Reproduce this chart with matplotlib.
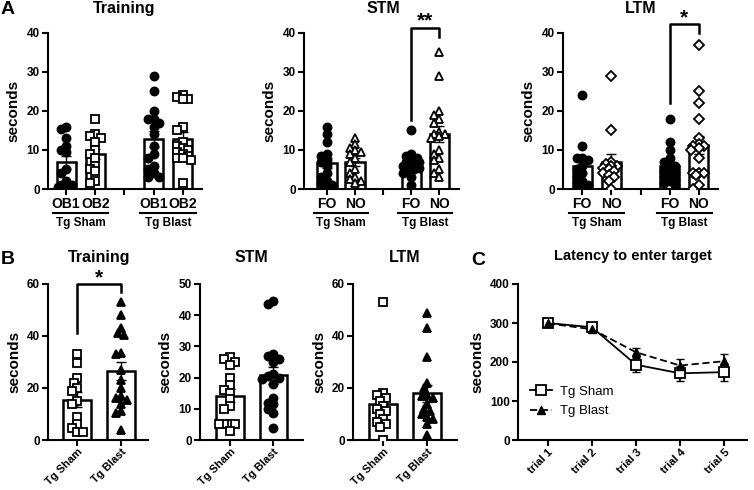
import numpy as np
import matplotlib
matplotlib.use("Agg")
import matplotlib.pyplot as plt
import matplotlib.transforms as mtrans

plt.rcParams['font.family'] = ['Liberation Sans', 'DejaVu Sans']
plt.rcParams['font.weight'] = 'bold'
plt.rcParams['axes.labelweight'] = 'bold'
plt.rcParams['axes.titleweight'] = 'bold'
plt.rcParams['axes.linewidth'] = 1.5

# ---------------- datos ----------------
# A: novel object recognition (seconds)
tr_sham_ob1 = [16, 15.5, 13, 11, 10, 9.5, 5, 4, 2, 1, 1, 0.5, 0.5]
tr_sham_ob2 = [18, 14, 13.5, 13, 12, 10, 9, 8, 6, 5, 4.5, 2, 1.5]
tr_blast_ob1 = [29, 25, 20, 18, 18, 17, 16, 14, 11, 9, 8, 6, 5, 4, 3, 3]
tr_blast_ob2 = [24, 23.5, 23, 23, 16, 15, 12, 11, 10.5, 10, 9.5, 9, 8.5, 8, 8, 7.5, 1.5]

stm_sham_fo = [16, 14, 12, 9, 8.5, 7.5, 7, 6, 4, 3, 2, 1.5, 1, 1]
stm_sham_no = [13, 11.5, 10.5, 10, 9.5, 9, 8, 7, 5, 4, 3, 2.5, 2, 1.5]
stm_blast_fo = [15, 9, 8.5, 8, 7.5, 7, 7, 6.5, 6, 6, 5.5, 5, 4.5, 4, 3, 1]
stm_blast_no = [35, 29, 20, 19, 18, 17, 14.5, 14, 14, 13.5, 13, 10, 9, 8, 7.5, 5, 4, 3]

ltm_sham_fo = [24, 11, 8, 8, 7.5, 6, 5, 4, 3, 2, 1.5, 1, 0.5, 0]
ltm_sham_no = [29, 15, 7, 6.5, 6, 6, 5.5, 5, 4.5, 4, 3.5, 3, 2, 0]
ltm_blast_fo = [18, 12, 10, 8, 7, 6.5, 6, 5, 4.5, 4, 3.5, 3, 2.5, 2, 1.5, 1]
ltm_blast_no = [37, 25, 22, 18, 13, 11.5, 11, 11, 10.5, 10, 8, 4, 4, 4, 3.5, 1, 0]

# B: Tg Sham vs Tg Blast (seconds)
b_tr_sham = [33, 29.5, 24, 22, 20, 19, 15, 14, 9, 6, 4.5, 3, 3]
b_tr_blast = [53, 48, 43, 41, 40.5, 33.5, 33, 27, 23, 20, 17, 16, 15.5, 14, 11, 10.5, 4]
b_stm_sham = [26.5, 26, 25, 24, 20, 17.5, 16, 15, 13, 11, 10, 5, 5, 5, 5, 3]
b_stm_blast = [44.5, 43.5, 27.5, 27, 26, 25, 21, 20.5, 20, 19.5, 18, 13.5, 12, 11.5, 10, 8.5, 4]
b_ltm_sham = [53, 18, 17.5, 16, 15, 13, 12, 11, 10, 8, 7, 6, 5, 0]
b_ltm_blast = [49, 43, 32, 22, 20, 17.5, 17, 16, 14, 12, 11, 10, 9, 8, 6, 2]

# C: latency to enter target
trials = ['trial 1', 'trial 2', 'trial 3', 'trial 4', 'trial 5']
lat_sham = [300, 289, 193, 171, 174]
lat_sham_err = [4, 4, 18, 20, 22]
lat_blast = [299, 284, 225, 191, 202]
lat_blast_err = [4, 4, 12, 16, 18]

W, H = 754, 490
fig = plt.figure(figsize=(W / 100, H / 100), dpi=100)


def add_ax(l, r, t, b):
    a = fig.add_axes([l / W, 1 - b / H, (r - l) / W, (b - t) / H])
    a.spines['top'].set_visible(False)
    a.spines['right'].set_visible(False)
    a.tick_params(width=1.5, length=4, labelsize=8.5, pad=2)
    return a


def swarm(ax, x0, vals, d, limit):
    # reparte los puntos a los lados (en pixeles) sin salirse mucho de la barra
    vals = np.asarray(vals, float)
    pts = ax.transData.transform(np.column_stack([np.full(len(vals), x0), vals]))
    step = d * 0.5
    cands = [0.0]
    j = 1
    while j * step <= limit:
        cands += [-j * step, j * step]
        j += 1
    placed = []
    xs = []
    for px, py in pts:
        best, bestd = px, -1
        for off in cands:
            c = px + off
            md = min([np.hypot(c - qx, py - qy) for qx, qy in placed] + [1e9])
            if md >= d:
                best = c
                break
            if md > bestd:
                best, bestd = c, md
        placed.append((best, py))
        xs.append(best)
    return ax.transData.inverted().transform(np.column_stack([xs, pts[:, 1]]))[:, 0]


def bar_dots(ax, x0, vals, width, marker, filled, ms=5.5, d=5.5):
    vals = np.asarray(vals, float)
    m = vals.mean()
    sem = vals.std(ddof=1) / np.sqrt(len(vals))
    ax.bar(x0, m, width=width, color='white', edgecolor='black', linewidth=1.8, zorder=1)
    ax.errorbar(x0, m, yerr=sem, color='black', lw=1, capsize=3.5, capthick=1, zorder=2)
    wpx = (ax.transData.transform((width, 0)) - ax.transData.transform((0, 0)))[0]
    xs = swarm(ax, x0, vals, d, 0.5 * wpx)
    ax.plot(xs, vals, ls='none', marker=marker, ms=ms,
            mfc='black' if filled else 'white', mec='black', mew=1.3, zorder=3)


def bracket(ax, x1, x2, ytop, y1, y2, label, ylab):
    ax.plot([x1, x1, x2, x2], [y1, ytop, ytop, y2], color='black', lw=1.8,
            clip_on=False, zorder=4)
    ax.text((x1 + x2) / 2, ylab, label, ha='center', va='center', fontsize=15,
            clip_on=False)


# ---------------- fila A ----------------
top = [
    (48, 202, (-0.62, 4.66), 'Training', ['OB1', 'OB2'],
     [tr_sham_ob1, tr_sham_ob2, tr_blast_ob1, tr_blast_ob2],
     [('o', True), ('s', False), ('o', True), ('s', False)], 0.65),
    (304, 459, (-0.82, 4.71), 'STM', ['FO', 'NO'],
     [stm_sham_fo, stm_sham_no, stm_blast_fo, stm_blast_no],
     [('o', True), ('^', False), ('o', True), ('^', False)], 0.68),
    (563, 718, (-0.65, 4.65), 'LTM', ['FO', 'NO'],
     [ltm_sham_fo, ltm_sham_no, ltm_blast_fo, ltm_blast_no],
     [('o', True), ('D', False), ('o', True), ('D', False)], 0.65),
]
top_axes = []
for l, r, xl, title, cats, series, marks, bw in top:
    ax = add_ax(l, r, 33, 189)
    ax.set_xlim(*xl)
    ax.set_ylim(0, 40)
    ax.set_yticks([0, 10, 20, 30, 40])
    pos = [0, 1, 3, 4]
    for p, vals, (mk, fl) in zip(pos, series, marks):
        ms = 5.2 if mk == 'D' else 5.8
        bar_dots(ax, p, vals, bw, mk, fl, ms=ms)
    ax.set_xticks([0, 1, 2, 3, 4])
    ax.set_xticklabels([cats[0], cats[1], '', cats[0], cats[1]], fontsize=10)
    ax.set_ylabel('seconds', fontsize=11, labelpad=4)
    tr = mtrans.blended_transform_factory(ax.transData, ax.transAxes)
    ax.text(2, 1.16, title, transform=tr, ha='center', va='center', fontsize=11.5)
    for g0, name in [(0, 'Tg Sham'), (3, 'Tg Blast')]:
        ax.plot([g0 - 0.45, g0 + 1.45], [-0.155, -0.155], color='black', lw=1.5,
                transform=tr, clip_on=False)
        ax.text(g0 + 0.5, -0.215, name, transform=tr, ha='center', va='center', fontsize=8.5)
    top_axes.append(ax)

bracket(top_axes[1], 3, 4, 41.4, 17.7, 39, '**', 43.0)
bracket(top_axes[2], 3, 4, 42.2, 22, 40, '*', 44.0)

# ---------------- fila B ----------------
bottom = [
    (48, 148, (-0.66, 1.61), 'Training', 60, [0, 20, 40, 60],
     [b_tr_sham, b_tr_blast], [('s', False), ('^', True)]),
    (200, 303, (-0.69, 1.68), 'STM', 50, [0, 10, 20, 30, 40, 50],
     [b_stm_sham, b_stm_blast], [('s', False), ('o', True)]),
    (353, 457, (-0.68, 1.68), 'LTM', 60, [0, 20, 40, 60],
     [b_ltm_sham, b_ltm_blast], [('s', False), ('^', True)]),
]
b_axes = []
for l, r, xl, title, ymax, yt, series, marks in bottom:
    ax = add_ax(l, r, 284, 440)
    ax.set_xlim(*xl)
    ax.set_ylim(0, ymax)
    ax.set_yticks(yt)
    for p, vals, (mk, fl) in zip([0, 1], series, marks):
        bar_dots(ax, p, vals, 0.64, mk, fl, ms=5.8, d=5.5)
    ax.set_xticks([0, 1])
    ax.set_xticklabels(['Tg Sham', 'Tg Blast'], rotation=45, ha='right',
                       rotation_mode='anchor', fontsize=8)
    ax.tick_params(axis='x', pad=1)
    ax.set_ylabel('seconds', fontsize=11, labelpad=4)
    tr = mtrans.blended_transform_factory(ax.transData, ax.transAxes)
    ax.text(0.5, 1.17, title, transform=tr, ha='center', va='center', fontsize=11.5)
    b_axes.append(ax)

bracket(b_axes[0], 0, 1, 60, 41, 57, '*', 62.5)

# ---------------- C ----------------
axc = add_ax(518, 747, 284, 440)
x = np.arange(len(trials))
axc.errorbar(x, lat_sham, yerr=lat_sham_err, color='black', lw=1.3, ls='none',
             capsize=3, capthick=1, zorder=2)
axc.errorbar(x, lat_blast, yerr=lat_blast_err, color='black', lw=1.3, ls='none',
             capsize=3, capthick=1, zorder=2)
axc.plot(x, lat_sham, color='black', lw=1.3, ls='-', marker='s', ms=7,
         mfc='white', mec='black', mew=1.3, label='Tg Sham', zorder=3)
axc.plot(x, lat_blast, color='black', lw=1.3, ls=(0, (4, 2)), marker='^', ms=6,
         mfc='black', mec='black', label='Tg Blast', zorder=4)
axc.set_xlim(-0.68, 4.52)
axc.set_ylim(0, 400)
axc.set_yticks([0, 100, 200, 300, 400])
axc.set_xticks(x)
axc.set_xticklabels(trials, rotation=45, ha='right', rotation_mode='anchor', fontsize=8)
axc.tick_params(axis='x', pad=1)
axc.set_ylabel('seconds', fontsize=11, labelpad=4)
axc.set_title('Latency to enter target', fontsize=10.5, pad=17)
axc.legend(loc='lower left', bbox_to_anchor=(0.0, 0.07), frameon=False,
           prop={'weight': 'normal', 'size': 9.5}, handlelength=1.7,
           handletextpad=0.6, labelspacing=0.55)

# letras de panel
fig.text(8 / W, 1 - 10 / H, 'A', fontsize=14, ha='center', va='center')
fig.text(8 / W, 1 - 259 / H, 'B', fontsize=14, ha='center', va='center')
fig.text(478 / W, 1 - 260 / H, 'C', fontsize=14, ha='center', va='center')

fig.savefig('out.png', dpi=100)
